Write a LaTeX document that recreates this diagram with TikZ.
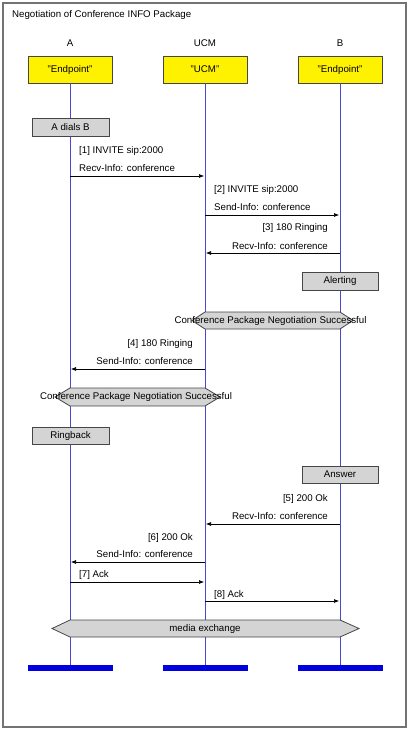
\documentclass[tikz,border=0pt]{standalone}
\usepackage{fontspec}
\setmainfont{Liberation Sans}
\usetikzlibrary{arrows.meta}
\definecolor{lifec}{RGB}{72,72,210}
\definecolor{barc}{RGB}{0,0,225}
\definecolor{boxgray}{RGB}{212,212,212}
\definecolor{edgec}{RGB}{70,70,70}
\tikzset{
  every node/.style={font=\fontsize{9.7}{11}\selectfont, inner sep=0pt},
  party/.style={draw=edgec, line width=0.8pt, fill=yellow, minimum width=84pt, minimum height=27pt},
  actbox/.style={draw=edgec, line width=0.8pt, fill=boxgray, minimum width=77pt, minimum height=18pt},
  lifeline/.style={draw=lifec, line width=0.8pt},
  endbar/.style={fill=barc, minimum width=85pt, minimum height=6pt},
  msg/.style={draw=black, line width=0.6pt, -{Latex[length=5pt,width=4pt]}, shorten >=1pt},
  hexa/.style={draw=edgec, line width=0.8pt, fill=boxgray},
  lbl/.style={anchor=base west},
  rlbl/.style={anchor=base east}
}
\begin{document}
\begin{tikzpicture}[x=1pt,y=-1pt]
\useasboundingbox (0,0) rectangle (409,731);
\draw[draw=gray!90!black, line width=1.5pt] (3,3) rectangle (406,727);
\node[lbl] (title) at (12,17.5) {Negotiation of Conference INFO Package};
% participants
\node (lA) at (70,43) {A};
\node (lU) at (205,43) {UCM};
\node (lB) at (340,43) {B};
\node[party] (pA) at (70,69.5) {"Endpoint"};
\node[party] (pU) at (205,69.5) {"UCM"};
\node[party] (pB) at (340,69.5) {"Endpoint"};
% end bars
\node[endbar] (eA) at (70.5,668) {};
\node[endbar] (eU) at (205.5,668) {};
\node[endbar] (eB) at (340,668) {};
% lifelines
\draw[lifeline] (pA.south) -- (pA.south |- eA.north);
\draw[lifeline] (pU.south) -- (pU.south |- eU.north);
\draw[lifeline] (pB.south) -- (pB.south |- eB.north);
% action boxes
\node[actbox] (dial) at (70.5,127) {A dials B};
\node[actbox, minimum width=76pt] (alert) at (340,281) {Alerting};
\node[actbox, minimum height=17pt] (ring) at (70.5,435.5) {Ringback};
\node[actbox, minimum width=76pt, minimum height=17pt] (answer) at (340,474.5) {Answer};
% message coordinates
\coordinate (m1a) at (70,176);  \coordinate (m1b) at (205,176);
\coordinate (m2a) at (205,215); \coordinate (m2b) at (340,215);
\coordinate (m3a) at (340,253); \coordinate (m3b) at (205,253);
\coordinate (m4a) at (205,369); \coordinate (m4b) at (70,369);
\coordinate (m5a) at (340,524); \coordinate (m5b) at (205,524);
\coordinate (m6a) at (205,562); \coordinate (m6b) at (70,562);
\coordinate (m7a) at (70,582);  \coordinate (m7b) at (205,582);
\coordinate (m8a) at (205,601); \coordinate (m8b) at (340,601);
% messages
\node[lbl] (t1a) at (79,153.5) {[1] INVITE sip:2000};
\node[lbl] (t1b) at (79,171.5) {Recv-Info: conference};
\draw[msg] (m1a) -- (m1b);
\node[lbl] (t2a) at (214,192.5) {[2] INVITE sip:2000};
\node[lbl] (t2b) at (214,210.5) {Send-Info: conference};
\draw[msg] (m2a) -- (m2b);
\node[rlbl] (t3a) at (328,230.5) {[3] 180 Ringing};
\node[rlbl] (t3b) at (328,249) {Recv-Info: conference};
\draw[msg] (m3a) -- (m3b);
% hexagon 1
\draw[hexa] (192,320.5) -- (205,312) -- (340,312) -- (353,320.5) -- (340,329) -- (205,329) -- cycle;
\node (h1) at (270.5,321) {Conference Package Negotiation Successful};
\node[rlbl] (t4a) at (193,346.5) {[4] 180 Ringing};
\node[rlbl] (t4b) at (193,364.5) {Send-Info: conference};
\draw[msg] (m4a) -- (m4b);
% hexagon 2
\draw[hexa] (55,397) -- (70,388) -- (205,388) -- (220,397) -- (205,406) -- (70,406) -- cycle;
\node (h2) at (136,397) {Conference Package Negotiation Successful};
\node[rlbl] (t5a) at (328,501.5) {[5] 200 Ok};
\node[rlbl] (t5b) at (328,519.5) {Recv-Info: conference};
\draw[msg] (m5a) -- (m5b);
\node[rlbl] (t6a) at (193,540.5) {[6] 200 Ok};
\node[rlbl] (t6b) at (193,557.5) {Send-Info: conference};
\draw[msg] (m6a) -- (m6b);
\node[lbl] (t7) at (79,577.5) {[7] Ack};
\draw[msg] (m7a) -- (m7b);
\node[lbl] (t8) at (214,597.5) {[8] Ack};
\draw[msg] (m8a) -- (m8b);
% media exchange
\draw[hexa] (52,628.5) -- (70,620) -- (340,620) -- (359,628.5) -- (340,637) -- (70,637) -- cycle;
\node (h3) at (205,629) {media exchange};
\end{tikzpicture}
\end{document}
